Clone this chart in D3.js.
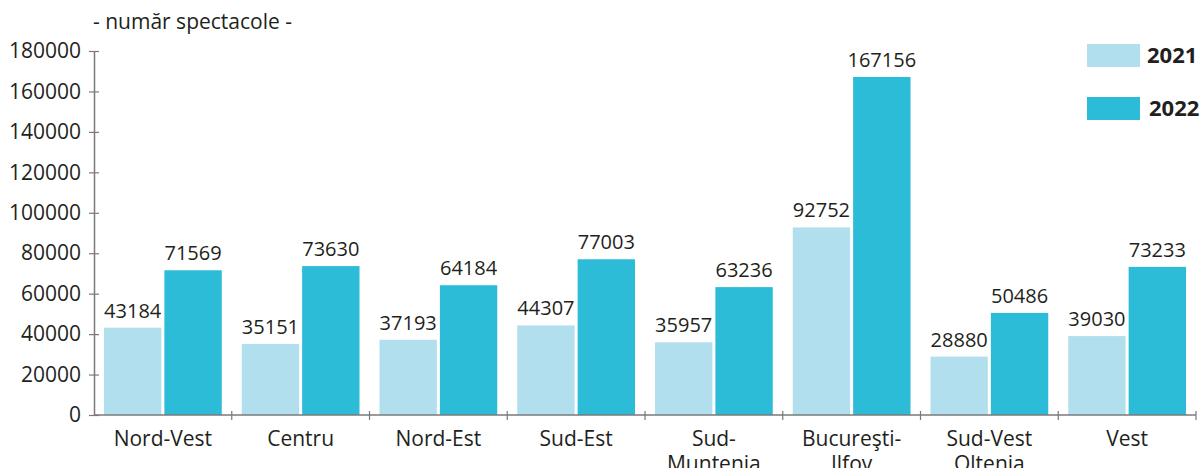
<!DOCTYPE html>
<html>
<head>
<meta charset="utf-8">
<script src="https://cdn.jsdelivr.net/npm/d3@7"></script>
<style>
  html, body { margin: 0; padding: 0; background: #fff; }
  svg { display: block; }
  text { font-family: "Open Sans", "Noto Sans", sans-serif; fill: #231f20; }
</style>
</head>
<body>
<svg id="chart" width="1204" height="468"></svg>
<script>
// Regions and number of performances per year
const regions = [["Nord-Vest"], ["Centru"], ["Nord-Est"], ["Sud-Est"], ["Sud-", "Muntenia"], ["Bucureşti-", "Ilfov"], ["Sud-Vest", "Oltenia"], ["Vest"]];
const years = ["2021", "2022"];
const values2021 = [43184, 35151, 37193, 44307, 35957, 92752, 28880, 39030];
const values2022 = [71569, 73630, 64184, 77003, 63236, 167156, 50486, 73233];
const yTicks = [0, 20000, 40000, 60000, 80000, 100000, 120000, 140000, 160000, 180000];
const colors = ["#b2dfee", "#2cbcd8"];

const svg = d3.select("#chart");
const margin = { left: 94, right: 8, top: 51, bottom: 53 };
const W = 1204, H = 468;
const axisColor = "#7a7a7a";

const keys = regions.map(r => r.join(" "));
const x = d3.scaleBand().domain(keys).range([margin.left, W - margin.right]).paddingInner(0).paddingOuter(0);
const x1 = d3.scaleBand().domain(years).range([10, x.bandwidth() - 10]).paddingInner(0.05);
const y = d3.scaleLinear().domain([0, 180000]).range([H - margin.bottom, margin.top]);

const series = [values2021, values2022];

// bars and value labels
const g = svg.append("g");
regions.forEach((r, i) => {
  years.forEach((yr, j) => {
    const v = series[j][i];
    const bx = x(keys[i]) + x1(yr);
    g.append("rect")
      .attr("x", bx).attr("width", x1.bandwidth())
      .attr("y", y(v)).attr("height", y(0) - y(v))
      .attr("fill", colors[j]);
    g.append("text")
      .attr("x", bx + x1.bandwidth() / 2).attr("y", y(v) - 10)
      .attr("text-anchor", "middle").attr("font-size", 20)
      .text(v);
  });
});

// y axis
const yAxis = svg.append("g").attr("transform", `translate(${margin.left},0)`)
  .call(d3.axisLeft(y).tickValues(yTicks).tickFormat(d => d).tickSizeInner(5).tickSizeOuter(0));
yAxis.select(".domain").attr("stroke", axisColor).attr("stroke-width", 1.5);
yAxis.selectAll(".tick line").attr("stroke", axisColor).attr("stroke-width", 1.2).attr("x1", -5).attr("x2", 5);
yAxis.selectAll(".tick text").attr("x", -13).attr("font-size", 21).attr("font-family", "Open Sans").attr("fill", "#231f20");

// x axis
const xAxis = svg.append("g").attr("transform", `translate(0,${y(0)})`);
xAxis.append("line").attr("x1", margin.left).attr("x2", W - margin.right)
  .attr("stroke", axisColor).attr("stroke-width", 1.5);
const bounds = keys.map(k => x(k)).concat([x(keys[keys.length - 1]) + x.bandwidth()]).slice(1);
xAxis.selectAll("line.tk").data(bounds).join("line").attr("class", "tk")
  .attr("x1", d => d).attr("x2", d => d).attr("y1", -4).attr("y2", 5)
  .attr("stroke", axisColor).attr("stroke-width", 1.2);
regions.forEach((r, i) => {
  const t = xAxis.append("text")
    .attr("x", x(keys[i]) + x.bandwidth() / 2).attr("y", 31)
    .attr("text-anchor", "middle").attr("font-size", 21);
  r.forEach((line, k) => {
    t.append("tspan").attr("x", x(keys[i]) + x.bandwidth() / 2).attr("dy", k === 0 ? 0 : 25).text(line);
  });
});

// unit caption
svg.append("text").attr("x", 93).attr("y", 29).attr("font-size", 21).text("- număr spectacole -");

// legend
years.forEach((yr, j) => {
  const ly = 44 + j * 53;
  svg.append("rect").attr("x", 1087).attr("y", ly).attr("width", 53).attr("height", 23).attr("fill", colors[j]);
  svg.append("text").attr("x", 1147 + j * 2).attr("y", ly + 19)
    .attr("font-size", 22).attr("font-weight", "bold").text(yr);
});
</script>
</body>
</html>
